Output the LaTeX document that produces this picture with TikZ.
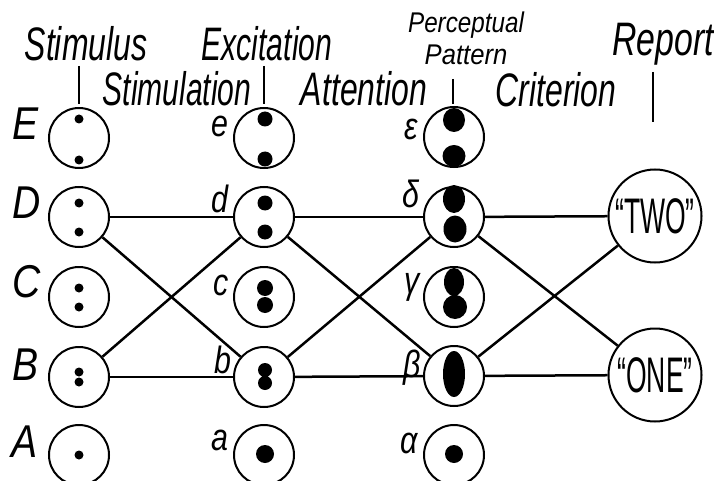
\documentclass[tikz,border=0pt]{standalone}
\usepackage{fontspec}
\usepackage{graphicx}
\newfontfamily\hand{Liberation Sans}
\newcommand\hx[2]{\scalebox{#1}[1]{#2}}
\begin{document}
\begin{tikzpicture}[x=1pt,y=-1pt,
  cell/.style={circle,draw,line width=2pt,minimum size=60pt,inner sep=0pt},
  rep/.style={circle,draw,line width=2pt,minimum size=93pt,inner sep=0pt,font=\hand\fontsize{50}{50}\selectfont},
  title/.style={anchor=base,inner sep=0pt,font=\hand\itshape\fontsize{47}{47}\selectfont},
  small/.style={anchor=base,inner sep=0pt,font=\hand\itshape\fontsize{28.5}{28.5}\selectfont},
  lab/.style={anchor=base,inner sep=0pt,font=\hand\itshape\fontsize{46}{46}\selectfont},
  llab/.style={anchor=base,inner sep=0pt,font=\hand\itshape\fontsize{38}{38}\selectfont},
  link/.style={line width=2.5pt},
  tick/.style={line width=2pt}]
\useasboundingbox (0,0) rectangle (714,481);
% titles
\node[title] (tStimulus) at (86,61) {\hx{0.68}{Stimulus}};
\node[title] (tExcitation) at (267,61) {\hx{0.64}{Excitation}};
\node[title] (tStimulation) at (177,106) {\hx{0.64}{Stimulation}};
\node[title] (tAttention) at (364,106) {\hx{0.68}{Attention}};
\node[small] (tPerceptual) at (466,33) {\hx{0.85}{Perceptual}};
\node[small] (tPattern) at (466,65) {\hx{0.9}{Pattern}};
\node[title] (tCriterion) at (556,107) {\hx{0.68}{Criterion}};
\node[title] (tReport) at (663,56) {\hx{0.72}{Report}};
% column 1
\node[cell] (E1) at (79,138) {};
\node[cell] (D1) at (79,217) {};
\node[cell] (C1) at (79,297) {};
\node[cell] (B1) at (79,377) {};
\node[cell] (A1) at (79,455) {};
% column 2
\node[cell] (e2) at (264,138) {};
\node[cell] (d2) at (264,217) {};
\node[cell] (c2) at (264,297) {};
\node[cell] (b2) at (264,377) {};
\node[cell] (a2) at (264,455) {};
% column 3
\node[cell] (eps3) at (454,137) {};
\node[cell] (del3) at (454,217) {};
\node[cell] (gam3) at (454,297) {};
\node[cell] (bet3) at (454,376) {};
\node[cell] (alp3) at (454,455) {};
% report
\node[rep] (two) at (655,216) {\hx{0.53}{“TWO”}};
\node[rep] (one) at (655,375) {\hx{0.53}{“ONE”}};
% labels
\node[lab] (lE) at (26,140) {\hx{0.85}{E}};
\node[lab] (lD) at (27,218) {\hx{0.85}{D}};
\node[lab] (lC) at (27,297) {\hx{0.85}{C}};
\node[lab] (lB) at (26,380) {\hx{0.85}{B}};
\node[lab] (lA) at (25,457) {\hx{0.85}{A}};
\node[llab] (le) at (220,137) {\hx{0.8}{e}};
\node[llab] (ld) at (220,212) {\hx{0.8}{d}};
\node[llab] (lc) at (221,295) {\hx{0.8}{c}};
\node[llab] (lb) at (223,373) {\hx{0.8}{b}};
\node[llab] (la) at (220,450) {\hx{0.8}{a}};
\node[llab] (lep) at (411,140) {\hx{0.8}{ε}};
\node[llab] (lde) at (411,207) {\hx{0.8}{δ}};
\node[llab] (lga) at (412,293) {\hx{0.8}{γ}};
\node[llab] (lbe) at (412,377) {\hx{0.8}{β}};
\node[llab] (lal) at (409,453) {\hx{0.8}{α}};
% ticks
\coordinate (k1a) at (79,66); \coordinate (k1b) at (79,104);
\coordinate (k2a) at (264,66); \coordinate (k2b) at (264,104);
\coordinate (k3a) at (453,79); \coordinate (k3b) at (453,104);
\coordinate (k4a) at (653,72); \coordinate (k4b) at (653,122);
\draw[tick] (k1a) -- (k1b);
\draw[tick] (k2a) -- (k2b);
\draw[tick] (k3a) -- (k3b);
\draw[tick] (k4a) -- (k4b);
% dots column 1
\fill (79,119) circle (4.5) (79,160) circle (4.5);
\fill (79,203) circle (4.5) (79,232) circle (4.5);
\fill (79,288) circle (4.5) (79,307) circle (4.5);
\fill (79,372) circle (4.5) (79,382) circle (4.5);
\fill (79,455) circle (4.5);
% dots column 2
\fill (265,119) circle (7.5) (265,159) circle (7.5);
\fill (265,203) circle (7.5) (265,232) circle (7.5);
\fill (265,288) circle (8) (265,305) circle (8);
\fill (265,370) circle (7) (265,383) circle (7);
\fill (265,454) circle (9);
% blobs column 3
\fill (454,120) ellipse (11 and 12) (454,156) ellipse (11.5 and 11);
\fill (454,199) ellipse (11 and 14) (455,229) ellipse (11.5 and 13.5);
\fill (454,282) ellipse (10 and 14) (455,307) ellipse (12 and 12);
\fill (454,374) ellipse (11 and 23);
\fill (454,454) circle (9);
% connections
\draw[link] (D1) -- (d2);
\draw[link] (D1) -- (b2);
\draw[link] (B1) -- (d2);
\draw[link] (B1) -- (b2);
\draw[link] (d2) -- (del3);
\draw[link] (d2) -- (bet3);
\draw[link] (b2) -- (del3);
\draw[link] (b2) -- (bet3);
\draw[link] (del3) -- (two);
\draw[link] (del3) -- (one);
\draw[link] (bet3) -- (two);
\draw[link] (bet3) -- (one);
\end{tikzpicture}
\end{document}
